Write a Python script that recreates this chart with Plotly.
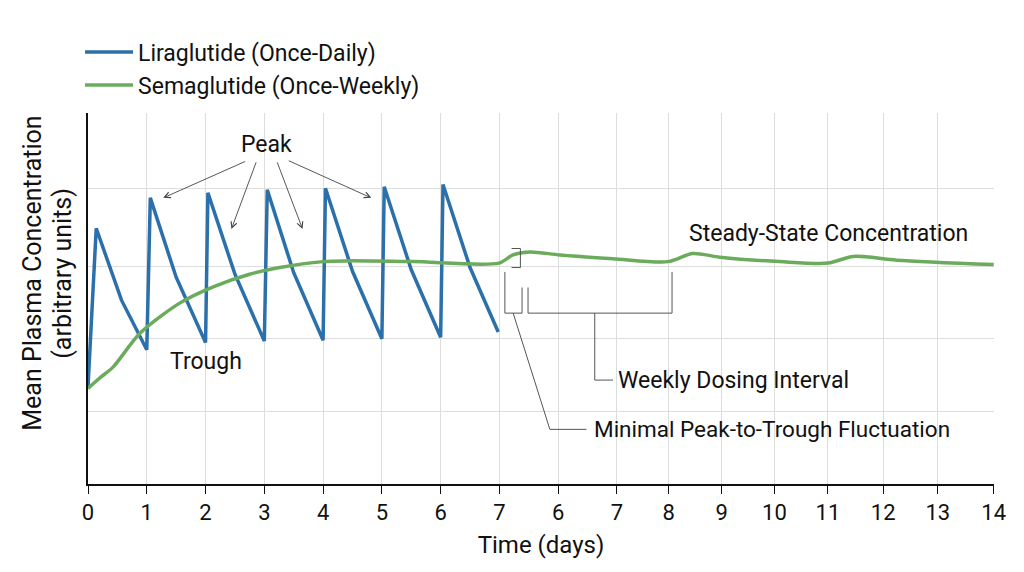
import plotly.graph_objects as go

# ---- data ----
tick_positions = [0, 1, 2, 3, 4, 5, 6, 7, 8, 9, 9.88, 10.78, 11.68, 12.59, 13.53, 14.46, 15.41]
tick_labels = ["0", "1", "2", "3", "4", "5", "6", "7", "6", "7", "8", "9", "10", "11", "12", "13", "14"]
y_grid = [0.98, 1.96, 2.93, 3.98, 5.0]

lira_x = [0, 0.14, 0.57, 1.0, 1.06, 1.5, 2.0, 2.04, 2.5, 3.0, 3.05, 3.5, 4.0, 4.04, 4.5,
          5.0, 5.04, 5.5, 6.0, 6.04, 6.5, 6.98]
lira_y = [1.31, 3.45, 2.48, 1.81, 3.86, 2.79, 1.91, 3.93, 2.83, 1.93, 3.97, 2.85, 1.94, 3.99, 2.87,
          1.96, 4.01, 2.89, 1.98, 4.04, 2.92, 2.05]

sema_x = [0, 0.2, 0.43, 0.88, 1.56, 2.13, 2.75, 3.26, 4.0, 4.4, 5.53, 6.99, 7.23, 7.52, 8.03,
          8.93, 9.87, 10.29, 10.75, 11.77, 12.59, 13.02, 13.76, 15.41]
sema_y = [1.29, 1.43, 1.58, 2.03, 2.44, 2.66, 2.83, 2.92, 3.0, 3.01, 3.0, 2.98, 3.09, 3.13, 3.09,
          3.04, 3.0, 3.11, 3.06, 3.0, 2.98, 3.07, 3.02, 2.96]

BLUE = "#2B70AA"
GREEN = "#6AAB5C"
FONT = "Roboto"
TXT = "#111111"

fig = go.Figure()
fig.add_trace(go.Scatter(x=lira_x, y=lira_y, mode="lines", name="Liraglutide (Once-Daily)",
                         line=dict(color=BLUE, width=3.5)))
fig.add_trace(go.Scatter(x=sema_x, y=sema_y, mode="lines", name="Semaglutide (Once-Weekly)",
                         line=dict(color=GREEN, width=3.5, shape="spline", smoothing=0.8)))

# ---- annotations ----
ann = []
txt = dict(font=dict(family=FONT, size=23, color=TXT), showarrow=False)
ann.append(dict(x=3.04, y=4.58, text="Peak", xanchor="center", yanchor="middle", **txt))
ann.append(dict(x=2.0, y=1.65, text="Trough", xanchor="center", yanchor="middle", **txt))
ann.append(dict(x=10.2, y=3.38, text="Steady-State Concentration", xanchor="left", yanchor="middle", **txt))
ann.append(dict(x=8.98, y=1.40, text="Weekly Dosing Interval", xanchor="left", yanchor="middle", **txt))
ann.append(dict(x=8.57, y=0.74, text="Minimal Peak-to-Trough Fluctuation", xanchor="left", yanchor="middle",
                font=dict(family=FONT, size=22.5, color=TXT), showarrow=False))

arrows = [((1.28, 3.86), (2.70, 4.36)),
          ((2.44, 3.44), (2.87, 4.36)),
          ((3.65, 3.44), (3.21, 4.36)),
          ((4.82, 3.86), (3.39, 4.37))]
for (hx, hy), (tx, ty) in arrows:
    ann.append(dict(x=hx, y=hy, ax=tx, ay=ty, xref="x", yref="y", axref="x", ayref="y",
                    text="", showarrow=True, arrowhead=5, arrowsize=1.3, arrowwidth=0.9,
                    arrowcolor="#444444"))

ytitle = dict(xref="paper", yref="paper", y=0.5687, textangle=-90, showarrow=False,
              xanchor="center", yanchor="middle", font=dict(family=FONT, size=25, color=TXT))
ann.append(dict(x=-0.0621, text="Mean Plasma Concentration", **ytitle))
ann.append(dict(x=-0.029, text="(arbitrary units)", **ytitle))

# ---- bracket guides ----
brackets = [
    "M7.207,3.177 L7.357,3.177 L7.357,2.92 L7.207,2.92",
    "M7.093,2.861 L7.093,2.305 L7.385,2.305 L7.385,2.651",
    "M7.487,2.651 L7.487,2.305 L9.937,2.305 L9.937,2.861",
    "M8.622,2.305 L8.622,1.402 L8.933,1.402",
    "M7.234,2.305 L7.858,0.737 L8.48,0.737",
]
shapes = [dict(type="path", path=p, xref="x", yref="y", line=dict(color="#555555", width=1))
          for p in brackets]

fig.update_layout(
    width=1024, height=572,
    margin=dict(l=80, r=38, t=105, b=96, autoexpand=False),
    paper_bgcolor="white", plot_bgcolor="white",
    font=dict(family=FONT, size=23, color=TXT),
    showlegend=True,
    legend=dict(x=-0.0088, y=1.222, xanchor="left", yanchor="top", itemwidth=48,
                font=dict(family=FONT, size=23, color=TXT), bgcolor="rgba(0,0,0,0)"),
    annotations=ann,
    shapes=shapes,
    xaxis=dict(range=[0, 15.415], tickvals=tick_positions, ticktext=tick_labels,
               showgrid=True, gridcolor="#DDDDDD", gridwidth=1,
               showline=True, linecolor=TXT, linewidth=1.5,
               ticks="outside", ticklen=8, tickcolor=TXT, tickwidth=1.2,
               tickfont=dict(family=FONT, size=22, color=TXT),
               title=dict(text="Time (days)", font=dict(family=FONT, size=24, color=TXT), standoff=12),
               zeroline=False),
    yaxis=dict(range=[0, 5.005], tickvals=y_grid, showticklabels=False,
               showgrid=True, gridcolor="#DDDDDD", gridwidth=1,
               showline=True, linecolor=TXT, linewidth=1.5, ticks="",
               zeroline=False),
)

fig.write_html("out.html")
